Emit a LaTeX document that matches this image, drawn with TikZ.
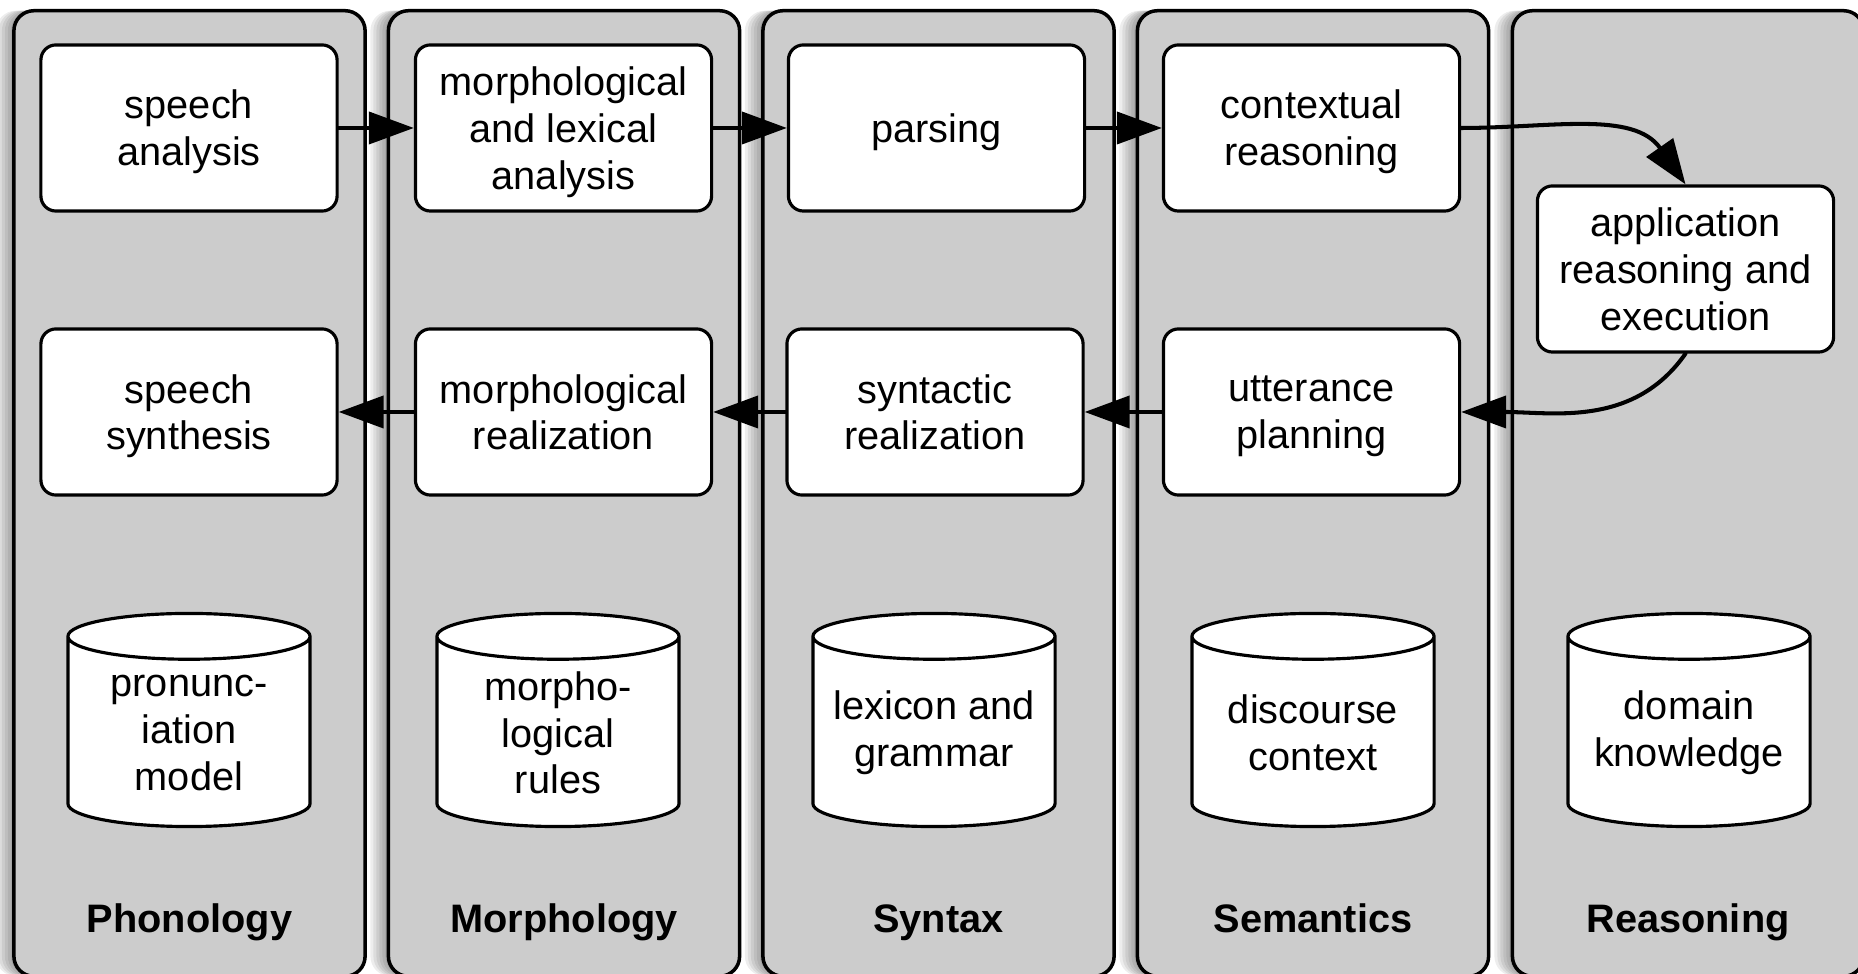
\documentclass[tikz,border=0pt]{standalone}
\usepackage{fontspec}
\setmainfont{Liberation Sans}
\usetikzlibrary{arrows.meta,shapes.geometric,shadows}
\definecolor{panelgray}{RGB}{204,204,204}
\tikzset{%
stage/.style={draw,fill=panelgray,line width=1pt,rounded corners=0.2cm,
              minimum width=3.51cm,minimum height=9.65cm,
              general shadow={fill=black,opacity=0.07,shadow xshift=-0.03cm},
              general shadow={fill=black,opacity=0.07,shadow xshift=-0.06cm},
              general shadow={fill=black,opacity=0.07,shadow xshift=-0.09cm},
              general shadow={fill=black,opacity=0.07,shadow xshift=-0.12cm},
              general shadow={fill=black,opacity=0.07,shadow xshift=-0.15cm},
              general shadow={fill=black,opacity=0.07,shadow xshift=-0.18cm}},
stagename/.style={anchor=base,font=\fontsize{11.3}{13.3}\selectfont\bfseries},
task/.style={draw,fill=white,line width=0.9pt,rounded corners=0.15cm,align=center,
             minimum width=2.96cm,minimum height=1.66cm,text depth=0pt,
             font=\fontsize{11.3}{13.3}\selectfont},
store/.style={draw,fill=white,line width=0.9pt,cylinder,shape border rotate=90,
              aspect=0.205,minimum width=2.42cm,minimum height=2.13cm,
              anchor=shape center,execute at begin node={\rule{2cm}{0pt}}},
storetext/.style={align=center,font=\fontsize{11.3}{13.3}\selectfont},
flow/.style={draw,line width=1.15pt,line cap=round,
             -{Triangle[length=0.45cm,width=0.32cm]}}
}
\begin{document}
\begin{tikzpicture}[x=0.01cm,y=0.01cm]
\useasboundingbox (0,0) rectangle (1858,-974);
\foreach \n/\x/\t in {phon/189.5/Phonology,
                      morph/564/Morphology,
                      syn/938.5/Syntax,
                      sem/1313/Semantics,
                      reas/1688/Reasoning}
{
  \node[stage]     (\n)      at (\x,-493.5) {};
  \node[stagename] (\n-name) at (\x,-932.5) {\t};
}
\node[task] (spana) at (189,-128)    {speech\\analysis};
\node[task] (mlana) at (563.5,-128)  {morphological\\and lexical\\analysis};
\node[task] (pars)  at (936.5,-128)  {parsing};
\node[task] (ctxr)  at (1311.5,-128) {contextual\\reasoning};
\node[task] (appr)  at (1685.5,-269) {application\\reasoning and\\execution};
\node[task] (spsyn) at (189,-412)    {speech\\synthesis};
\node[task] (mreal) at (563.5,-412)  {morphological\\realization};
\node[task] (sreal) at (935,-412)    {syntactic\\realization};
\node[task] (uplan) at (1311.5,-412) {utterance\\planning};

\foreach \n/\x/\t in {pron/189/{pronunc-\\iation\\model},
                      mrule/558/{morpho-\\logical\\rules},
                      lexg/934/{lexicon and\\grammar},
                      disc/1313/{discourse\\context},
                      dom/1689/{domain\\knowledge}}
{
  \node[store]     (\n)     at (\x,-720) {};
  \node[storetext] (\n-txt) at (\x,-733) {\t};
}

\foreach \a/\b in {spana/mlana,mlana/pars,pars/ctxr,
                   uplan/sreal,sreal/mreal,mreal/spsyn}
  \draw[flow] (\a) -- (\b);
\draw[flow] (ctxr.east) to[out=0,in=125] (appr.north);
\draw[flow] (appr.south) to[out=-125,in=0] (uplan.east);
\end{tikzpicture}
\end{document}
